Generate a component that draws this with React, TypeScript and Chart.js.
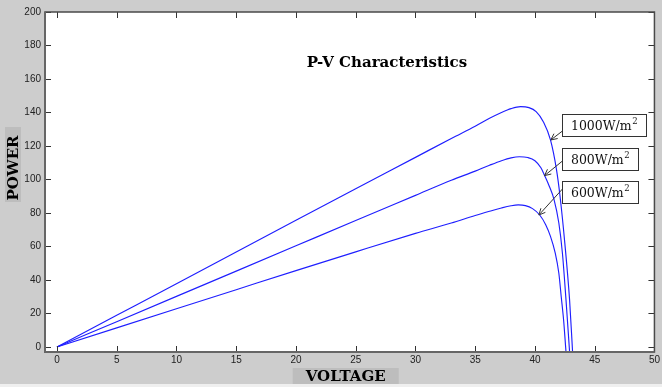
import React, { useEffect, useRef } from "react";
import { Chart, registerables } from "chart.js";

Chart.register(...registerables);

// ---- data ----
const voltage1000 = [0, 5, 10, 15, 20, 25, 30, 33, 35, 36.2, 37.2, 38, 38.8, 39.5, 40.1, 40.7, 41.3, 41.8, 42.1, 42.5, 42.9, 43.15];
const power1000 = [0, 18.9, 37.8, 56.7, 75.6, 94.5, 113.2, 124.5, 131.8, 136.5, 140, 142.3, 143.5, 142.9, 140.5, 134.5, 123.6, 106, 90, 62, 28, -3];

const voltage800 = [0, 5, 10, 15, 20, 25, 30, 33, 35, 36.2, 37.2, 38, 38.7, 39.4, 40, 40.5, 40.8, 41.2, 41.6, 42.0, 42.3, 42.6, 42.9];
const power800 = [0, 15.1, 30.2, 45.3, 60.4, 75.5, 90.5, 99.5, 105, 108.5, 111.2, 112.9, 113.6, 113.1, 111.2, 107, 102.5, 96, 88, 74, 56, 28, -3];

const voltage600 = [0, 5, 10, 15, 20, 25, 30, 33, 35, 36.2, 37.2, 38, 38.6, 39.2, 39.8, 40.4, 40.9, 41.3, 41.7, 42.0, 42.2, 42.4, 42.6];
const power600 = [0, 11.4, 22.8, 34.2, 45.6, 56.8, 67.8, 74, 78.5, 81, 83, 84.3, 84.8, 84.4, 82.6, 78.8, 73, 66, 56, 44, 30, 16, -3];

const xTickValues = [0, 5, 10, 15, 20, 25, 30, 35, 40, 45, 50];
const yTickValues = [0, 20, 40, 60, 80, 100, 120, 140, 160, 180, 200];

const seriesLabels = ["1000W/m", "800W/m", "600W/m"];
const tipVoltage = [41.33, 40.8, 40.33];
const tipPower = [123.6, 102.3, 78.8];

const titleText = "P-V Characteristics";
const xAxisLabel = "VOLTAGE";
const yAxisLabel = "POWER";

const LINE_COLOR = "#1f1fff";

const decorPlugin = {
  id: "decor",
  beforeDraw(chart: any) {
    const { ctx, chartArea: a, width, height } = chart;
    ctx.save();
    ctx.fillStyle = "#cdcdcd";
    ctx.fillRect(0, 0, width, height);
    ctx.fillStyle = "#efefef";
    ctx.fillRect(0, 384, width, height - 384);
    ctx.fillStyle = "#ffffff";
    ctx.fillRect(a.left, a.top, a.right - a.left, a.bottom - a.top);
    ctx.restore();
  },
  afterDraw(chart: any) {
    const { ctx, chartArea: a } = chart;
    const xs = chart.scales.x;
    const ys = chart.scales.y;
    ctx.save();

    // inward ticks on all four sides
    ctx.strokeStyle = "#333";
    ctx.lineWidth = 1;
    ctx.beginPath();
    for (const t of xs.ticks) {
      const px = Math.round(xs.getPixelForValue(t.value)) + 0.5;
      ctx.moveTo(px, a.bottom);
      ctx.lineTo(px, a.bottom - 6);
      ctx.moveTo(px, a.top);
      ctx.lineTo(px, a.top + 6);
    }
    for (const t of ys.ticks) {
      const py = Math.round(ys.getPixelForValue(t.value)) + 0.5;
      ctx.moveTo(a.left, py);
      ctx.lineTo(a.left + 6, py);
      ctx.moveTo(a.right, py);
      ctx.lineTo(a.right - 6, py);
    }
    ctx.stroke();

    // axes box
    ctx.strokeStyle = "#4a4a4a";
    ctx.lineWidth = 1.5;
    ctx.strokeRect(a.left, a.top, a.right - a.left, a.bottom - a.top);
    ctx.strokeStyle = "#666";
    ctx.lineWidth = 2;
    ctx.beginPath();
    ctx.moveTo(a.left, a.top);
    ctx.lineTo(a.left, a.bottom);
    ctx.lineTo(a.right, a.bottom);
    ctx.stroke();

    // title
    ctx.fillStyle = "#000";
    ctx.font = 'bold 15px "DejaVu Serif"';
    ctx.textAlign = "center";
    ctx.textBaseline = "middle";
    ctx.fillText(titleText, a.left + (a.right - a.left) * 0.561, a.top + 51);

    // annotation boxes + arrows
    const boxTops = [102, 136, 169];
    const startOffsets = [17, 13, 8];
    const boxLeft = a.right - 92;
    for (let i = 0; i < seriesLabels.length; i++) {
      const top = a.top + boxTops[i];
      ctx.font = '12.5px "DejaVu Serif"';
      const mainW = ctx.measureText(seriesLabels[i]).width;
      ctx.font = '8.5px "DejaVu Serif"';
      const supW = ctx.measureText("2").width;
      const w = mainW + supW + 18;
      const h = 22;
      ctx.fillStyle = "#fff";
      ctx.fillRect(boxLeft, top, w, h);
      ctx.strokeStyle = "#333";
      ctx.lineWidth = 1;
      ctx.strokeRect(Math.round(boxLeft) + 0.5, Math.round(top) + 0.5, Math.round(w), h);
      ctx.fillStyle = "#111";
      ctx.textAlign = "left";
      ctx.textBaseline = "alphabetic";
      ctx.font = '12.5px "DejaVu Serif"';
      ctx.fillText(seriesLabels[i], boxLeft + 8.5, top + 15.5);
      ctx.font = '8.5px "DejaVu Serif"';
      ctx.fillText("2", boxLeft + 8.5 + mainW + 0.5, top + 10);

      // arrow
      const sx = boxLeft;
      const sy = top + startOffsets[i];
      const tx = xs.getPixelForValue(tipVoltage[i]);
      const ty = ys.getPixelForValue(tipPower[i]);
      ctx.strokeStyle = "#333";
      ctx.lineWidth = 1;
      ctx.beginPath();
      ctx.moveTo(sx, sy);
      ctx.lineTo(tx, ty);
      const ang = Math.atan2(ty - sy, tx - sx);
      const hl = 7;
      const spread = 0.45;
      ctx.moveTo(tx, ty);
      ctx.lineTo(tx - hl * Math.cos(ang - spread), ty - hl * Math.sin(ang - spread));
      ctx.moveTo(tx, ty);
      ctx.lineTo(tx - hl * Math.cos(ang + spread), ty - hl * Math.sin(ang + spread));
      ctx.stroke();
    }

    // axis labels with gray boxes
    ctx.font = 'bold 15px "DejaVu Serif"';
    const cx = (a.left + a.right) / 2 - 4;
    ctx.fillStyle = "#bdbdbd";
    ctx.fillRect(cx - 53, 368, 106, 16);
    ctx.fillStyle = "#000";
    ctx.textAlign = "center";
    ctx.textBaseline = "middle";
    ctx.fillText(xAxisLabel, cx, 377);

    ctx.fillStyle = "#bdbdbd";
    ctx.fillRect(5, 127, 16, 75);
    ctx.save();
    ctx.translate(14, 168);
    ctx.rotate(-Math.PI / 2);
    ctx.fillStyle = "#000";
    ctx.fillText(yAxisLabel, 0, 0);
    ctx.restore();

    ctx.restore();
  },
};

function toPoints(xs: number[], ys: number[]) {
  return xs.map((x, i) => ({ x, y: ys[i] }));
}

export default function App() {
  const canvasRef = useRef<HTMLCanvasElement | null>(null);

  useEffect(() => {
    const canvas = canvasRef.current;
    if (!canvas) return;
    const ds = (label: string, xs: number[], ys: number[]) => ({
      label,
      data: toPoints(xs, ys),
      borderColor: LINE_COLOR,
      borderWidth: 1.15,
      pointRadius: 0,
      fill: false,
      cubicInterpolationMode: "monotone" as const,
    });
    const chart = new Chart(canvas, {
      type: "line",
      data: {
        datasets: [
          ds(seriesLabels[0], voltage1000, power1000),
          ds(seriesLabels[1], voltage800, power800),
          ds(seriesLabels[2], voltage600, power600),
        ],
      },
      options: {
        animation: false,
        responsive: false,
        devicePixelRatio: 1,
        events: [],
        layout: { padding: { top: 12, right: 5, left: 0, bottom: 0 }, autoPadding: false },
        plugins: { legend: { display: false }, tooltip: { enabled: false }, title: { display: false } },
        scales: {
          x: {
            type: "linear",
            min: -1,
            max: 50,
            grid: { display: false, drawTicks: false },
            border: { display: false },
            afterBuildTicks: (scale: any) => {
              scale.ticks = xTickValues.map((value) => ({ value }));
            },
            afterFit: (scale: any) => {
              scale.height = 35;
            },
            ticks: {
              autoSkip: false,
              maxRotation: 0,
              padding: 2,
              color: "#222",
              font: { family: '"Liberation Sans", Arial, sans-serif', size: 10 },
            },
          },
          y: {
            type: "linear",
            min: -3,
            max: 200,
            grid: { display: false, drawTicks: false },
            border: { display: false },
            afterBuildTicks: (scale: any) => {
              scale.ticks = yTickValues.map((value) => ({ value }));
            },
            afterFit: (scale: any) => {
              scale.width = 45;
            },
            ticks: {
              autoSkip: false,
              padding: 4,
              color: "#222",
              font: { family: '"Liberation Sans", Arial, sans-serif', size: 10 },
            },
          },
        },
      },
      plugins: [decorPlugin],
    });
    return () => chart.destroy();
  }, []);

  return (
    <div style={{ position: "absolute", left: 0, top: 0, width: 662, height: 387 }}>
      <canvas ref={canvasRef} width={662} height={387} style={{ width: 662, height: 387, display: "block" }} />
    </div>
  );
}
